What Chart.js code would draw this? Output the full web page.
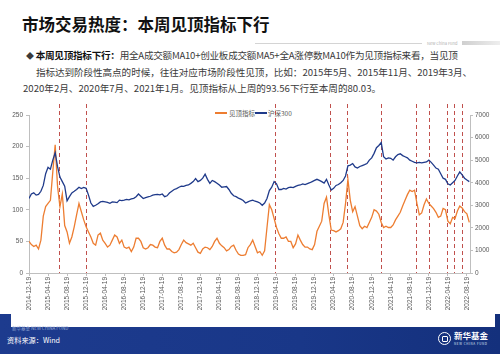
<!DOCTYPE html>
<html>
<head>
<meta charset="utf-8">
<script src="https://cdn.jsdelivr.net/npm/chart.js@4"></script>
<style>
  html, body { margin: 0; padding: 0; }
  body { width: 500px; height: 354px; position: relative; overflow: hidden; background: #fff;
         font-family: "Noto Sans CJK SC", "Noto Sans", sans-serif; }
  .abs { position: absolute; white-space: nowrap; }
  .title { left: 22px; top: 12px; font-size: 16.5px; font-weight: 700; color: #111; }
  .txt { font-size: 9.6px; color: #3a3a3a; line-height: 12px; }
  .txt b { color: #111; }
  .band { left: 0; top: 314px; width: 500px; height: 40px;
          background: linear-gradient(90deg, #1d3b8e 0%, #193788 60%, #14307c 100%); }
  .card { left: 11px; top: 305px; width: 484px; height: 22px; background: #fff; }
  .leg { font-size: 6.5px; color: #595959; top: 108px; }
  .sw { position: absolute; height: 1.5px; top: 112px; }
</style>
</head>
<body>
<div class="abs title">市场交易热度：本周见顶指标下行</div>
<div class="abs" style="left:255px;top:43px;width:167px;height:1px;background:#d4d4d4"></div>
<div class="abs" style="left:427px;top:40px;font-size:4px;color:#b0b0b0">New China Fund</div>
<div class="abs" style="left:462px;top:41px;width:38px;height:4px;background:linear-gradient(90deg,#cfcfcf,#eeeeee)"></div>

<div class="abs txt" style="left:26px;top:49px;letter-spacing:-0.26px"><span style="font-size:8px">◆</span>&nbsp;<b>本周见顶指标下行：</b>用全A成交额MA10+创业板成交额MA5+全A涨停数MA10作为见顶指标来看，当见顶</div>
<div class="abs txt" style="left:36px;top:66px;letter-spacing:-0.08px">指标达到阶段性高点的时候，往往对应市场阶段性见顶，比如：2015年5月、2015年11月、2019年3月、</div>
<div class="abs txt" style="left:23px;top:82px">2020年2月、2020年7月、2021年1月。见顶指标从上周的93.56下行至本周的80.03。</div>

<div class="sw" style="left:215px;width:12px;background:#ED7D31"></div>
<div class="abs leg" style="left:229px">见顶指标</div>
<div class="sw" style="left:255px;width:12px;background:#1F3A8A"></div>
<div class="abs leg" style="left:268px">沪深300</div>

<div class="abs band"></div>
<div class="abs card"></div>
<div class="abs" style="left:12px;top:325px;font-size:4.5px;color:#9fb0d8">新华基金 NEW CHINA FUND</div>
<div class="abs" style="left:7px;top:335px;font-size:7.2px;color:#fff">资料来源：Wind</div>
<div class="abs" style="left:438px;top:332px;width:11px;height:11px;border:1.3px solid #fff;border-radius:50%"></div>
<div class="abs" style="left:441.5px;top:335.5px;width:4px;height:4px;border:1.2px solid #fff;border-radius:1px"></div>
<div class="abs" style="left:454px;top:329px;font-size:8.5px;font-weight:700;color:#fff">新华基金</div>
<div class="abs" style="left:454px;top:342px;font-size:3px;color:#dfe6f5;letter-spacing:0.6px">NEW CHINA FUND</div>

<div class="abs" style="left:0;top:98px;width:500px;height:215px">
  <canvas id="c" width="500" height="215"></canvas>
</div>

<script>
// series start 2014-12-19, one point every half month
const seriesStart = '2014-12-19';
const stepMonths = 0.5;

const xTickLabels = ['2014-12-19','2015-04-19','2015-08-19','2015-12-19','2016-04-19','2016-08-19',
  '2016-12-19','2017-04-19','2017-08-19','2017-12-19','2018-04-19','2018-08-19','2018-12-19',
  '2019-04-19','2019-08-19','2019-12-19','2020-04-19','2020-08-19','2020-12-19','2021-04-19',
  '2021-08-19','2021-12-19','2022-04-19','2022-08-19'];

const leftTicks = [0, 50, 100, 150, 200, 250];
const rightTicks = [0, 1000, 2000, 3000, 4000, 5000, 6000, 7000];

// 见顶指标
const topIndicator = [
  50,45,42,44,38,52,90,105,110,115,160,203,137,105,125,75,65,47,57,73,92,110,97,84,73,65,57,47,44,60,
  63,52,47,41,44,52,60,57,47,52,41,39,41,34,41,55,
  55,50,40,38,40,45,44,41,40,50,55,44,38,38,34,32,33,37,45,52,48,46,44,47,40,33,31,38,41,40,
  37,42,50,55,47,43,40,35,37,42,44,36,30,28,28,29,40,
  45,52,42,32,34,28,35,72,108,100,86,72,62,55,55,57,50,50,40,46,60,52,45,41,41,38,37,45,66,74,
  82,110,120,92,68,67,65,67,70,80,110,148,115,97,105,
  90,75,70,74,72,80,88,100,98,93,80,72,74,72,72,76,84,90,96,106,115,124,131,129,131,110,92,95,108,117,
  110,106,102,96,88,90,102,100,82,78,88,86,98,106,103,97,93.56,80.03
];

// 沪深300
const hs300 = [
  3300,3500,3550,3450,3480,3620,3880,4400,4680,4600,5000,5330,4710,4250,4050,3850,3200,3380,3550,3620,
  3700,3800,3740,3790,3750,3450,3100,2950,3000,3070,3150,3170,3150,3130,3090,3150,3140,3120,3230,3210,
  3230,3260,3240,3280,3310,3380,
  3500,3400,3300,3340,3370,3400,3450,3470,3480,3460,3500,3380,3420,3540,3620,3700,3740,3800,3850,3840,
  3880,3900,3970,4050,4180,4050,4100,4200,4380,4150,3970,4100,4050,3980,3900,3800,3820,3830,3700,3530,
  3420,3380,3320,3270,3210,3100,3150,
  3200,3230,3180,3150,3100,3000,3100,3300,3650,3800,4050,3950,3700,3700,3750,3720,3780,3800,3780,3840,
  3880,3900,3950,3920,3960,4000,4050,4100,4150,4100,4050,3980,4150,3900,3680,3750,3880,3920,4000,4100,
  4300,4750,4780,4850,4700,
  4650,4720,4760,4800,4850,5000,5100,5300,5550,5650,5780,5150,5050,5100,5080,5000,5150,5250,5280,5200,
  5150,5100,5000,4950,4900,4880,4900,4880,4900,4920,5000,4900,4780,4650,4600,4400,4200,4150,3950,3900,
  4000,4100,4300,4480,4350,4200,4120,4050
];

// 见顶时点 (red dashed lines)
const peakDates = ['2015-06-30','2015-12-20','2019-04-10','2020-03-25','2020-07-16','2021-02-16',
  '2021-09-28','2021-12-19','2022-04-13','2022-05-28','2022-07-19'];

function monthsFrom(s) {
  const [y, m, d] = s.split('-').map(Number);
  const [y0, m0, d0] = seriesStart.split('-').map(Number);
  return (y - y0) * 12 + (m - m0) + (d - d0) / 30.44;
}

const toPoints = arr => arr.map((v, i) => ({ x: i * stepMonths, y: v }));

const tickFont = { family: '"Liberation Sans", Arial, sans-serif', size: 6.5 };
const axisColor = '#BFBFBF';

const peakLines = {
  id: 'peakLines',
  beforeDatasetsDraw(chart) {
    const { ctx, chartArea, scales } = chart;
    ctx.save();
    ctx.strokeStyle = '#C0504D';
    ctx.lineWidth = 1;
    ctx.setLineDash([4, 3]);
    peakDates.forEach(d => {
      const x = Math.round(scales.x.getPixelForValue(monthsFrom(d))) + 0.5;
      ctx.beginPath();
      ctx.moveTo(x, chartArea.top - 11);
      ctx.lineTo(x, chartArea.bottom);
      ctx.stroke();
    });
    ctx.restore();
  }
};

new Chart(document.getElementById('c'), {
  type: 'line',
  data: {
    datasets: [
      {
        label: '沪深300',
        data: toPoints(hs300),
        yAxisID: 'y1',
        borderColor: '#1F3A8A',
        borderWidth: 1.3,
        pointRadius: 0,
        tension: 0,
        order: 1
      },
      {
        label: '见顶指标',
        data: toPoints(topIndicator),
        yAxisID: 'y',
        borderColor: '#ED7D31',
        borderWidth: 1.3,
        pointRadius: 0,
        tension: 0,
        order: 2
      }
    ]
  },
  options: {
    responsive: false,
    animation: false,
    layout: { padding: { top: 17, left: 0, right: 0, bottom: 0 } },
    plugins: { legend: { display: false }, tooltip: { enabled: false } },
    scales: {
      x: {
        type: 'linear',
        min: 0,
        max: 92.65,
        afterBuildTicks: s => { s.ticks = xTickLabels.map(l => ({ value: monthsFrom(l) })); },
        afterFit: s => { s.height = 40; },
        border: { color: axisColor },
        grid: { drawOnChartArea: false, tickLength: 3, color: axisColor },
        ticks: {
          autoSkip: false,
          minRotation: 90,
          maxRotation: 90,
          padding: 1,
          color: '#595959',
          font: tickFont,
          callback: (v, i) => xTickLabels[i]
        }
      },
      y: {
        position: 'left',
        min: 0,
        max: 250,
        afterBuildTicks: s => { s.ticks = leftTicks.map(v => ({ value: v })); },
        afterFit: s => { s.width = 29; },
        border: { color: axisColor },
        grid: { drawOnChartArea: false, tickLength: 3, color: axisColor },
        ticks: { color: '#595959', font: tickFont, padding: 3, callback: v => String(v) }
      },
      y1: {
        position: 'right',
        min: 0,
        max: 7000,
        afterBuildTicks: s => { s.ticks = rightTicks.map(v => ({ value: v })); },
        afterFit: s => { s.width = 30; },
        border: { color: axisColor },
        grid: { drawOnChartArea: false, tickLength: 3, color: axisColor },
        ticks: { color: '#595959', font: tickFont, padding: 2, callback: v => String(v) }
      }
    }
  },
  plugins: [peakLines]
});
</script>
</body>
</html>
